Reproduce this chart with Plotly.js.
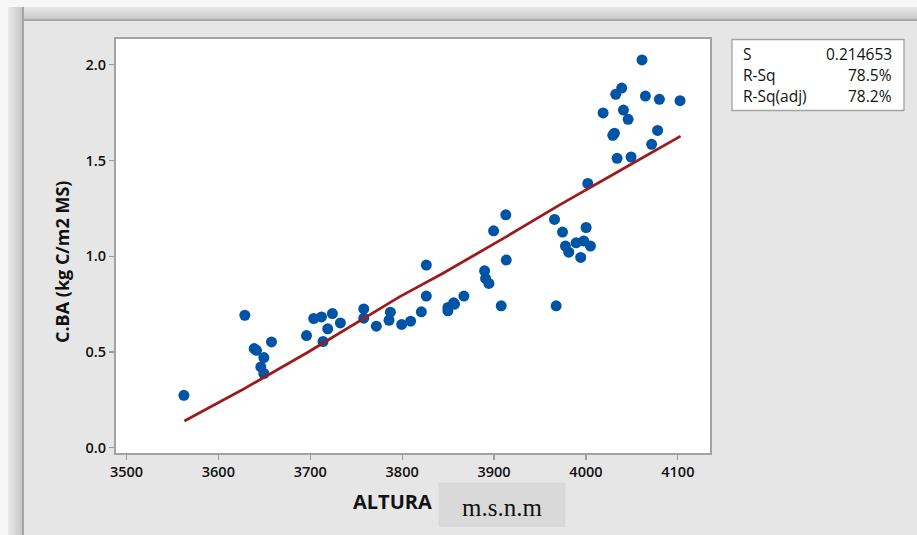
<!DOCTYPE html>
<html>
<head>
<meta charset="utf-8">
<script src="https://cdn.plot.ly/plotly-3.0.1.min.js"></script>
<style>
  html, body { margin: 0; padding: 0; width: 917px; height: 535px; overflow: hidden; background: #f6f6f6; }
  #topstrip { position: absolute; left: 8px; top: 7px; width: 909px; height: 12px;
    background: linear-gradient(to bottom, #e9e9e9, #c8c8c8); border-bottom: 2px solid #a8a8a8; }
  #leftstrip { position: absolute; left: 8px; top: 7px; width: 14px; height: 528px;
    background: linear-gradient(to right, #e9e9e9, #c6c6c6); border-right: 2px solid #a4a4a4; }
  #inner { position: absolute; left: 24px; top: 21px; right: 0; bottom: 0; background: #e6e6e6; }
  #chart { position: absolute; left: 0; top: 0; width: 917px; height: 535px; }
</style>
</head>
<body>
<div id="topstrip"></div>
<div id="leftstrip"></div>
<div id="inner"></div>
<div id="chart"></div>
<script>
// Observed data: ALTURA (m.s.n.m) vs C.BA (kg C/m2 MS)
var altura = [3562.5, 3628.8, 3639.0, 3641.5, 3649.5, 3646.2, 3649.5, 3657.8, 3695.9, 3703.8,
              3712.2, 3724.1, 3719.0, 3713.9, 3732.8, 3758.2, 3758.2, 3771.9, 3787.2, 3785.7,
              3799.5, 3809.2, 3820.9, 3826.3, 3826.3, 3849.8, 3849.8, 3856.0, 3857.0, 3867.2,
              3889.7, 3890.8, 3894.4, 3907.8, 3913.3, 3899.5, 3912.8, 3967.6, 3965.8, 3974.5,
              3977.7, 3981.3, 3989.3, 3997.6, 4000.2, 4004.9, 3994.3, 4002.0, 4018.7, 4029.2,
              4031.0, 4032.4, 4038.9, 4040.8, 4045.9, 4033.9, 4049.1, 4061.0, 4064.7, 4071.5,
              4078.0, 4079.9, 4102.4];
var cba = [0.274, 0.692, 0.518, 0.509, 0.471, 0.422, 0.388, 0.553, 0.586, 0.675,
           0.683, 0.701, 0.621, 0.555, 0.652, 0.725, 0.677, 0.635, 0.708, 0.666,
           0.644, 0.661, 0.710, 0.792, 0.954, 0.733, 0.715, 0.757, 0.750, 0.792,
           0.924, 0.884, 0.858, 0.741, 0.980, 1.133, 1.216, 0.741, 1.192, 1.126,
           1.053, 1.021, 1.070, 1.080, 1.150, 1.053, 0.994, 1.380, 1.748, 1.631,
           1.642, 1.845, 1.878, 1.763, 1.715, 1.511, 1.518, 2.025, 1.836, 1.584,
           1.657, 1.819, 1.812];

// Fitted line
var fitX = [3563, 3625, 3696, 3757, 3797, 3844, 3913, 3971, 4000, 4051, 4103];
var fitY = [0.140, 0.300, 0.495, 0.670, 0.788, 0.910, 1.101, 1.267, 1.345, 1.485, 1.627];

// Axis ticks
var xTicks = [3500, 3600, 3700, 3800, 3900, 4000, 4100];
var yTicks = [0.0, 0.5, 1.0, 1.5, 2.0];
var yTickText = ['0.0', '0.5', '1.0', '1.5', '2.0'];

// Summary statistics
var statNames = ['S', 'R-Sq', 'R-Sq(adj)'];
var statValues = ['0.214653', '78.5%', '78.2%'];

var FONT = '"Open Sans", "Noto Sans", sans-serif';

var traces = [
  {
    x: altura, y: cba, type: 'scatter', mode: 'markers',
    marker: { color: '#0054a5', size: 11, line: { width: 0 } },
    hoverinfo: 'x+y', showlegend: false
  },
  {
    x: fitX, y: fitY, type: 'scatter', mode: 'lines',
    line: { color: '#9e1b1b', width: 2.8 },
    showlegend: false
  }
];

var M = { l: 116, r: 207, t: 39, b: 82 };
var PW = 917 - M.l - M.r, PH = 535 - M.t - M.b;
function px(x) { return (x - M.l) / PW; }
function py(y) { return (535 - M.b - y) / PH; }

var shapes = [
  { type: 'rect', xref: 'paper', yref: 'paper', x0: px(732), x1: px(904), y0: py(110.5), y1: py(39.5),
    fillcolor: '#ffffff', line: { color: '#a3a3a3', width: 1.3 }, layer: 'below' },
  { type: 'rect', xref: 'paper', yref: 'paper', x0: px(438.5), x1: px(565.5), y0: py(527), y1: py(482.5),
    fillcolor: '#d9d9d9', line: { width: 0 }, layer: 'below' }
];

var annotations = [];
var rowY = [53.5, 75, 96.5];
for (var i = 0; i < statNames.length; i++) {
  annotations.push({ xref: 'paper', yref: 'paper', x: px(741), y: py(rowY[i]), xanchor: 'left', yanchor: 'middle',
    text: statNames[i], showarrow: false, font: { family: FONT, size: 15.5, color: '#111111' } });
  annotations.push({ xref: 'paper', yref: 'paper', x: px(894), y: py(rowY[i]), xanchor: 'right', yanchor: 'middle',
    text: statValues[i], showarrow: false, font: { family: FONT, size: 15.5, color: '#111111' } });
}
annotations.push({ xref: 'paper', yref: 'paper', x: px(392.5), y: py(501), xanchor: 'center', yanchor: 'middle',
  text: 'ALTURA', showarrow: false, font: { family: FONT, size: 20, color: '#111111', weight: 700 } });
annotations.push({ xref: 'paper', yref: 'paper', x: px(502), y: py(508), xanchor: 'center', yanchor: 'middle',
  text: 'm.s.n.m', showarrow: false, font: { family: '"Liberation Serif", "DejaVu Serif", serif', size: 25, color: '#111111' } });
annotations.push({ xref: 'paper', yref: 'paper', x: px(62), y: py(262), xanchor: 'center', yanchor: 'middle', textangle: -90,
  text: 'C.BA (kg C/m2 MS)', showarrow: false, font: { family: FONT, size: 18, color: '#111111', weight: 700 } });

var layout = {
  width: 917, height: 535, autosize: false,
  margin: { l: M.l, r: M.r, t: M.t, b: M.b, pad: 0 },
  paper_bgcolor: 'rgba(0,0,0,0)',
  plot_bgcolor: '#ffffff',
  font: { family: FONT, color: '#111111' },
  showlegend: false,
  xaxis: {
    range: [3488.6, 4135], tickvals: xTicks, ticktext: xTicks.map(String),
    ticks: 'outside', ticklen: 5, tickwidth: 1.3, tickcolor: '#9a9a9a',
    showline: true, linecolor: '#a3a3a3', linewidth: 2, mirror: true,
    showgrid: false, zeroline: false,
    tickfont: { family: FONT, size: 14.5, color: '#111111', weight: 600 }
  },
  yaxis: {
    range: [-0.027, 2.134], tickvals: yTicks, ticktext: yTickText,
    ticks: 'outside', ticklen: 5, tickwidth: 1.3, tickcolor: '#9a9a9a',
    showline: true, linecolor: '#a3a3a3', linewidth: 2, mirror: true,
    showgrid: false, zeroline: false,
    tickfont: { family: FONT, size: 14.5, color: '#111111', weight: 600 }
  },
  shapes: shapes,
  annotations: annotations
};

Plotly.newPlot('chart', traces, layout, { displayModeBar: false, staticPlot: true });
</script>
</body>
</html>
